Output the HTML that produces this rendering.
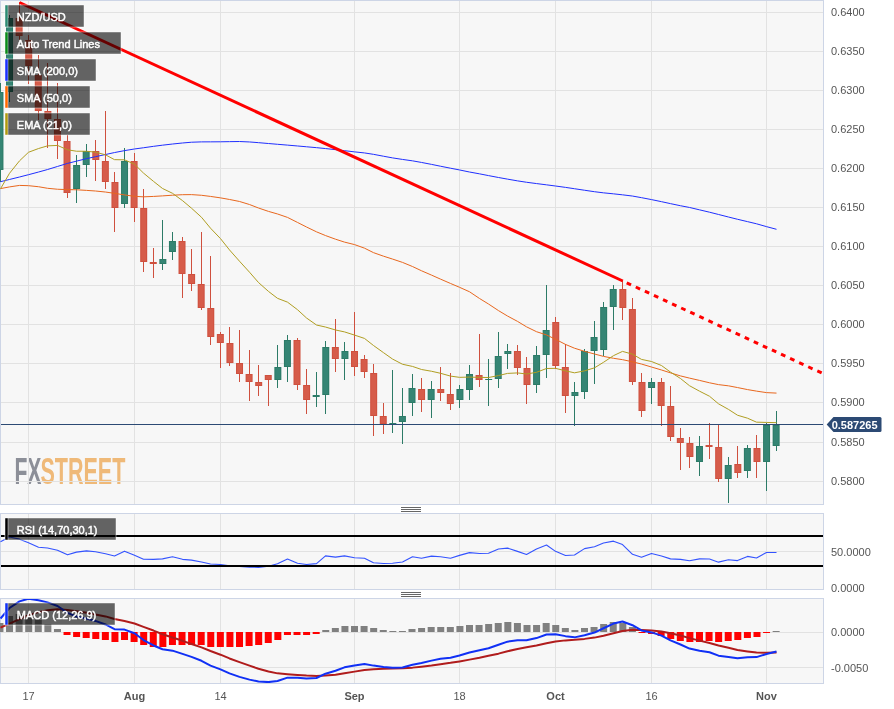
<!DOCTYPE html><html><head><meta charset="utf-8"><title>NZD/USD chart</title><style>html,body{margin:0;padding:0;background:#fff;overflow:hidden}svg{display:block}</style></head><body><svg width="894" height="709" viewBox="0 0 894 709"><defs><clipPath id="cm"><rect x="0" y="1" width="823" height="503"/></clipPath><clipPath id="cr"><rect x="0" y="514" width="823" height="75"/></clipPath><clipPath id="cd"><rect x="0" y="599" width="823" height="84"/></clipPath></defs><rect width="894" height="709" fill="#fff"/><rect x="0.5" y="0.5" width="823" height="504" fill="#f7f7f7" stroke="#cdd5e6" stroke-width="1"/><rect x="0.5" y="513.5" width="823" height="76" fill="#f7f7f7" stroke="#cdd5e6" stroke-width="1"/><rect x="0.5" y="598.5" width="823" height="85" fill="#f7f7f7" stroke="#cdd5e6" stroke-width="1"/><g font-family="Liberation Sans, Arial, sans-serif" font-weight="bold" font-size="37.4"><text x="14.4" y="484" fill="#8c8f98" textLength="27" lengthAdjust="spacingAndGlyphs">FX</text><text x="40.4" y="484" fill="#efb978" textLength="85" lengthAdjust="spacingAndGlyphs">STREET</text></g><g fill="#e2e2e2" shape-rendering="crispEdges"><rect x="28" y="1" width="1" height="503"/><rect x="134" y="1" width="1" height="503"/><rect x="220" y="1" width="1" height="503"/><rect x="354" y="1" width="1" height="503"/><rect x="459" y="1" width="1" height="503"/><rect x="555" y="1" width="1" height="503"/><rect x="651" y="1" width="1" height="503"/><rect x="766" y="1" width="1" height="503"/><rect x="28" y="514" width="1" height="75"/><rect x="134" y="514" width="1" height="75"/><rect x="220" y="514" width="1" height="75"/><rect x="354" y="514" width="1" height="75"/><rect x="459" y="514" width="1" height="75"/><rect x="555" y="514" width="1" height="75"/><rect x="651" y="514" width="1" height="75"/><rect x="766" y="514" width="1" height="75"/><rect x="28" y="599" width="1" height="84"/><rect x="134" y="599" width="1" height="84"/><rect x="220" y="599" width="1" height="84"/><rect x="354" y="599" width="1" height="84"/><rect x="459" y="599" width="1" height="84"/><rect x="555" y="599" width="1" height="84"/><rect x="651" y="599" width="1" height="84"/><rect x="766" y="599" width="1" height="84"/><rect x="1" y="12" width="822" height="1"/><rect x="1" y="51" width="822" height="1"/><rect x="1" y="90" width="822" height="1"/><rect x="1" y="129" width="822" height="1"/><rect x="1" y="168" width="822" height="1"/><rect x="1" y="207" width="822" height="1"/><rect x="1" y="246" width="822" height="1"/><rect x="1" y="285" width="822" height="1"/><rect x="1" y="324" width="822" height="1"/><rect x="1" y="363" width="822" height="1"/><rect x="1" y="402" width="822" height="1"/><rect x="1" y="442" width="822" height="1"/><rect x="1" y="481" width="822" height="1"/><rect x="1" y="551" width="822" height="1"/><rect x="1" y="632" width="822" height="1"/><rect x="1" y="667" width="822" height="1"/></g><g clip-path="url(#cm)"><g shape-rendering="crispEdges"><rect x="0" y="83" width="1" height="99" fill="#2c7b67"/><rect x="9" y="15" width="1" height="87" fill="#2c7b67"/><rect x="19" y="2" width="1" height="38" fill="#cf503e"/><rect x="28" y="35" width="1" height="49" fill="#cf503e"/><rect x="38" y="55" width="1" height="65" fill="#cf503e"/><rect x="47" y="63" width="1" height="85" fill="#cf503e"/><rect x="57" y="83" width="1" height="76" fill="#cf503e"/><rect x="67" y="135" width="1" height="63" fill="#cf503e"/><rect x="76" y="155" width="1" height="48" fill="#2c7b67"/><rect x="86" y="144" width="1" height="33" fill="#2c7b67"/><rect x="95" y="140" width="1" height="41" fill="#cf503e"/><rect x="105" y="111" width="1" height="78" fill="#cf503e"/><rect x="114" y="172" width="1" height="60" fill="#cf503e"/><rect x="124" y="148" width="1" height="60" fill="#2c7b67"/><rect x="134" y="153" width="1" height="69" fill="#cf503e"/><rect x="143" y="189" width="1" height="83" fill="#cf503e"/><rect x="153" y="248" width="1" height="30" fill="#cf503e"/><rect x="162" y="220" width="1" height="50" fill="#2c7b67"/><rect x="172" y="232" width="1" height="28" fill="#2c7b67"/><rect x="182" y="237" width="1" height="61" fill="#cf503e"/><rect x="191" y="249" width="1" height="42" fill="#cf503e"/><rect x="201" y="232" width="1" height="78" fill="#cf503e"/><rect x="210" y="256" width="1" height="89" fill="#cf503e"/><rect x="220" y="332" width="1" height="36" fill="#cf503e"/><rect x="229" y="327" width="1" height="39" fill="#cf503e"/><rect x="239" y="330" width="1" height="52" fill="#cf503e"/><rect x="249" y="350" width="1" height="51" fill="#cf503e"/><rect x="258" y="365" width="1" height="31" fill="#cf503e"/><rect x="268" y="375" width="1" height="31" fill="#cf503e"/><rect x="277" y="345" width="1" height="43" fill="#2c7b67"/><rect x="287" y="335" width="1" height="47" fill="#2c7b67"/><rect x="297" y="338" width="1" height="52" fill="#cf503e"/><rect x="306" y="369" width="1" height="45" fill="#cf503e"/><rect x="316" y="372" width="1" height="35" fill="#2c7b67"/><rect x="325" y="341" width="1" height="73" fill="#2c7b67"/><rect x="335" y="319" width="1" height="53" fill="#cf503e"/><rect x="344" y="342" width="1" height="38" fill="#2c7b67"/><rect x="354" y="312" width="1" height="64" fill="#cf503e"/><rect x="364" y="355" width="1" height="23" fill="#cf503e"/><rect x="373" y="364" width="1" height="72" fill="#cf503e"/><rect x="383" y="403" width="1" height="31" fill="#cf503e"/><rect x="392" y="370" width="1" height="63" fill="#2c7b67"/><rect x="402" y="388" width="1" height="56" fill="#2c7b67"/><rect x="412" y="374" width="1" height="42" fill="#2c7b67"/><rect x="421" y="378" width="1" height="34" fill="#cf503e"/><rect x="431" y="381" width="1" height="37" fill="#2c7b67"/><rect x="440" y="367" width="1" height="34" fill="#cf503e"/><rect x="450" y="373" width="1" height="37" fill="#cf503e"/><rect x="459" y="385" width="1" height="23" fill="#2c7b67"/><rect x="469" y="365" width="1" height="35" fill="#2c7b67"/><rect x="479" y="334" width="1" height="53" fill="#cf503e"/><rect x="488" y="359" width="1" height="47" fill="#2c7b67"/><rect x="498" y="332" width="1" height="56" fill="#2c7b67"/><rect x="507" y="344" width="1" height="25" fill="#2c7b67"/><rect x="517" y="345" width="1" height="30" fill="#cf503e"/><rect x="526" y="357" width="1" height="47" fill="#cf503e"/><rect x="536" y="346" width="1" height="47" fill="#2c7b67"/><rect x="546" y="285" width="1" height="93" fill="#2c7b67"/><rect x="555" y="317" width="1" height="52" fill="#cf503e"/><rect x="565" y="344" width="1" height="69" fill="#cf503e"/><rect x="574" y="382" width="1" height="44" fill="#2c7b67"/><rect x="584" y="349" width="1" height="50" fill="#2c7b67"/><rect x="594" y="321" width="1" height="63" fill="#2c7b67"/><rect x="603" y="302" width="1" height="54" fill="#2c7b67"/><rect x="613" y="285" width="1" height="45" fill="#2c7b67"/><rect x="622" y="281" width="1" height="39" fill="#cf503e"/><rect x="632" y="298" width="1" height="87" fill="#cf503e"/><rect x="641" y="373" width="1" height="44" fill="#cf503e"/><rect x="651" y="378" width="1" height="26" fill="#2c7b67"/><rect x="661" y="378" width="1" height="48" fill="#cf503e"/><rect x="670" y="386" width="1" height="55" fill="#cf503e"/><rect x="680" y="428" width="1" height="42" fill="#cf503e"/><rect x="689" y="437" width="1" height="31" fill="#cf503e"/><rect x="699" y="436" width="1" height="40" fill="#2c7b67"/><rect x="709" y="423" width="1" height="36" fill="#cf503e"/><rect x="718" y="425" width="1" height="57" fill="#cf503e"/><rect x="728" y="457" width="1" height="46" fill="#2c7b67"/><rect x="737" y="446" width="1" height="32" fill="#cf503e"/><rect x="747" y="445" width="1" height="33" fill="#2c7b67"/><rect x="756" y="435" width="1" height="43" fill="#cf503e"/><rect x="766" y="423" width="1" height="68" fill="#2c7b67"/><rect x="776" y="411" width="1" height="40" fill="#2c7b67"/></g><rect x="-3.55" y="92" width="7" height="78" fill="#2c7b67"/><rect x="-2.55" y="93" width="5" height="76" fill="#358574"/><rect x="6.03" y="18" width="7" height="74" fill="#2c7b67"/><rect x="7.03" y="19" width="5" height="72" fill="#358574"/><rect x="15.62" y="18" width="7" height="18" fill="#cf503e"/><rect x="16.62" y="19" width="5" height="16" fill="#d65c4a"/><rect x="25.20" y="40" width="7" height="26" fill="#cf503e"/><rect x="26.20" y="41" width="5" height="24" fill="#d65c4a"/><rect x="34.78" y="75" width="7" height="36" fill="#cf503e"/><rect x="35.78" y="76" width="5" height="34" fill="#d65c4a"/><rect x="44.37" y="111" width="7" height="8" fill="#cf503e"/><rect x="45.37" y="112" width="5" height="6" fill="#d65c4a"/><rect x="53.95" y="119" width="7" height="22" fill="#cf503e"/><rect x="54.95" y="120" width="5" height="20" fill="#d65c4a"/><rect x="63.53" y="141" width="7" height="52" fill="#cf503e"/><rect x="64.53" y="142" width="5" height="50" fill="#d65c4a"/><rect x="73.11" y="165" width="7" height="24" fill="#2c7b67"/><rect x="74.11" y="166" width="5" height="22" fill="#358574"/><rect x="82.70" y="151" width="7" height="14" fill="#2c7b67"/><rect x="83.70" y="152" width="5" height="12" fill="#358574"/><rect x="92.28" y="151" width="7" height="9" fill="#cf503e"/><rect x="93.28" y="152" width="5" height="7" fill="#d65c4a"/><rect x="101.86" y="161" width="7" height="21" fill="#cf503e"/><rect x="102.86" y="162" width="5" height="19" fill="#d65c4a"/><rect x="111.44" y="182" width="7" height="26" fill="#cf503e"/><rect x="112.44" y="183" width="5" height="24" fill="#d65c4a"/><rect x="121.03" y="161" width="7" height="43" fill="#2c7b67"/><rect x="122.03" y="162" width="5" height="41" fill="#358574"/><rect x="130.61" y="161" width="7" height="47" fill="#cf503e"/><rect x="131.61" y="162" width="5" height="45" fill="#d65c4a"/><rect x="140.19" y="208" width="7" height="54" fill="#cf503e"/><rect x="141.19" y="209" width="5" height="52" fill="#d65c4a"/><rect x="149.77" y="262" width="7" height="2" fill="#cf503e"/><rect x="159.36" y="259" width="7" height="5" fill="#2c7b67"/><rect x="160.36" y="260" width="5" height="3" fill="#358574"/><rect x="168.94" y="241" width="7" height="11" fill="#2c7b67"/><rect x="169.94" y="242" width="5" height="9" fill="#358574"/><rect x="178.52" y="241" width="7" height="33" fill="#cf503e"/><rect x="179.52" y="242" width="5" height="31" fill="#d65c4a"/><rect x="188.10" y="274" width="7" height="10" fill="#cf503e"/><rect x="189.10" y="275" width="5" height="8" fill="#d65c4a"/><rect x="197.69" y="284" width="7" height="24" fill="#cf503e"/><rect x="198.69" y="285" width="5" height="22" fill="#d65c4a"/><rect x="207.27" y="308" width="7" height="29" fill="#cf503e"/><rect x="208.27" y="309" width="5" height="27" fill="#d65c4a"/><rect x="216.85" y="334" width="7" height="9" fill="#cf503e"/><rect x="217.85" y="335" width="5" height="7" fill="#d65c4a"/><rect x="226.43" y="343" width="7" height="20" fill="#cf503e"/><rect x="227.43" y="344" width="5" height="18" fill="#d65c4a"/><rect x="236.02" y="363" width="7" height="11" fill="#cf503e"/><rect x="237.02" y="364" width="5" height="9" fill="#d65c4a"/><rect x="245.60" y="374" width="7" height="8" fill="#cf503e"/><rect x="246.60" y="375" width="5" height="6" fill="#d65c4a"/><rect x="255.18" y="382" width="7" height="4" fill="#cf503e"/><rect x="256.18" y="383" width="5" height="2" fill="#d65c4a"/><rect x="264.76" y="375" width="7" height="5" fill="#cf503e"/><rect x="265.76" y="376" width="5" height="3" fill="#d65c4a"/><rect x="274.35" y="367" width="7" height="13" fill="#2c7b67"/><rect x="275.35" y="368" width="5" height="11" fill="#358574"/><rect x="283.93" y="340" width="7" height="27" fill="#2c7b67"/><rect x="284.93" y="341" width="5" height="25" fill="#358574"/><rect x="293.51" y="340" width="7" height="45" fill="#cf503e"/><rect x="294.51" y="341" width="5" height="43" fill="#d65c4a"/><rect x="303.10" y="385" width="7" height="15" fill="#cf503e"/><rect x="304.10" y="386" width="5" height="13" fill="#d65c4a"/><rect x="312.68" y="395" width="7" height="2" fill="#2c7b67"/><rect x="322.26" y="347" width="7" height="48" fill="#2c7b67"/><rect x="323.26" y="348" width="5" height="46" fill="#358574"/><rect x="331.84" y="347" width="7" height="12" fill="#cf503e"/><rect x="332.84" y="348" width="5" height="10" fill="#d65c4a"/><rect x="341.43" y="351" width="7" height="8" fill="#2c7b67"/><rect x="342.43" y="352" width="5" height="6" fill="#358574"/><rect x="351.01" y="351" width="7" height="16" fill="#cf503e"/><rect x="352.01" y="352" width="5" height="14" fill="#d65c4a"/><rect x="360.59" y="359" width="7" height="13" fill="#cf503e"/><rect x="361.59" y="360" width="5" height="11" fill="#d65c4a"/><rect x="370.17" y="373" width="7" height="43" fill="#cf503e"/><rect x="371.17" y="374" width="5" height="41" fill="#d65c4a"/><rect x="379.76" y="416" width="7" height="8" fill="#cf503e"/><rect x="380.76" y="417" width="5" height="6" fill="#d65c4a"/><rect x="389.34" y="423" width="7" height="1" fill="#2c7b67"/><rect x="398.92" y="416" width="7" height="6" fill="#2c7b67"/><rect x="399.92" y="417" width="5" height="4" fill="#358574"/><rect x="408.50" y="388" width="7" height="15" fill="#2c7b67"/><rect x="409.50" y="389" width="5" height="13" fill="#358574"/><rect x="418.09" y="389" width="7" height="11" fill="#cf503e"/><rect x="419.09" y="390" width="5" height="9" fill="#d65c4a"/><rect x="427.67" y="389" width="7" height="11" fill="#2c7b67"/><rect x="428.67" y="390" width="5" height="9" fill="#358574"/><rect x="437.25" y="389" width="7" height="4" fill="#cf503e"/><rect x="438.25" y="390" width="5" height="2" fill="#d65c4a"/><rect x="446.83" y="394" width="7" height="10" fill="#cf503e"/><rect x="447.83" y="395" width="5" height="8" fill="#d65c4a"/><rect x="456.42" y="389" width="7" height="11" fill="#2c7b67"/><rect x="457.42" y="390" width="5" height="9" fill="#358574"/><rect x="466.00" y="374" width="7" height="16" fill="#2c7b67"/><rect x="467.00" y="375" width="5" height="14" fill="#358574"/><rect x="475.58" y="375" width="7" height="5" fill="#cf503e"/><rect x="476.58" y="376" width="5" height="3" fill="#d65c4a"/><rect x="485.16" y="379" width="7" height="1" fill="#2c7b67"/><rect x="494.75" y="356" width="7" height="23" fill="#2c7b67"/><rect x="495.75" y="357" width="5" height="21" fill="#358574"/><rect x="504.33" y="351" width="7" height="3" fill="#2c7b67"/><rect x="505.33" y="352" width="5" height="1" fill="#358574"/><rect x="513.91" y="351" width="7" height="17" fill="#cf503e"/><rect x="514.91" y="352" width="5" height="15" fill="#d65c4a"/><rect x="523.50" y="368" width="7" height="17" fill="#cf503e"/><rect x="524.50" y="369" width="5" height="15" fill="#d65c4a"/><rect x="533.08" y="355" width="7" height="30" fill="#2c7b67"/><rect x="534.08" y="356" width="5" height="28" fill="#358574"/><rect x="542.66" y="330" width="7" height="25" fill="#2c7b67"/><rect x="543.66" y="331" width="5" height="23" fill="#358574"/><rect x="552.24" y="322" width="7" height="44" fill="#cf503e"/><rect x="553.24" y="323" width="5" height="42" fill="#d65c4a"/><rect x="561.83" y="367" width="7" height="29" fill="#cf503e"/><rect x="562.83" y="368" width="5" height="27" fill="#d65c4a"/><rect x="571.41" y="392" width="7" height="4" fill="#2c7b67"/><rect x="572.41" y="393" width="5" height="2" fill="#358574"/><rect x="580.99" y="351" width="7" height="41" fill="#2c7b67"/><rect x="581.99" y="352" width="5" height="39" fill="#358574"/><rect x="590.57" y="337" width="7" height="14" fill="#2c7b67"/><rect x="591.57" y="338" width="5" height="12" fill="#358574"/><rect x="600.16" y="307" width="7" height="43" fill="#2c7b67"/><rect x="601.16" y="308" width="5" height="41" fill="#358574"/><rect x="609.74" y="289" width="7" height="18" fill="#2c7b67"/><rect x="610.74" y="290" width="5" height="16" fill="#358574"/><rect x="619.32" y="289" width="7" height="19" fill="#cf503e"/><rect x="620.32" y="290" width="5" height="17" fill="#d65c4a"/><rect x="628.90" y="309" width="7" height="73" fill="#cf503e"/><rect x="629.90" y="310" width="5" height="71" fill="#d65c4a"/><rect x="638.49" y="382" width="7" height="29" fill="#cf503e"/><rect x="639.49" y="383" width="5" height="27" fill="#d65c4a"/><rect x="648.07" y="382" width="7" height="6" fill="#2c7b67"/><rect x="649.07" y="383" width="5" height="4" fill="#358574"/><rect x="657.65" y="382" width="7" height="24" fill="#cf503e"/><rect x="658.65" y="383" width="5" height="22" fill="#d65c4a"/><rect x="667.23" y="406" width="7" height="31" fill="#cf503e"/><rect x="668.23" y="407" width="5" height="29" fill="#d65c4a"/><rect x="676.82" y="438" width="7" height="5" fill="#cf503e"/><rect x="677.82" y="439" width="5" height="3" fill="#d65c4a"/><rect x="686.40" y="443" width="7" height="14" fill="#cf503e"/><rect x="687.40" y="444" width="5" height="12" fill="#d65c4a"/><rect x="695.98" y="446" width="7" height="16" fill="#2c7b67"/><rect x="696.98" y="447" width="5" height="14" fill="#358574"/><rect x="705.56" y="445" width="7" height="2" fill="#cf503e"/><rect x="715.15" y="447" width="7" height="32" fill="#cf503e"/><rect x="716.15" y="448" width="5" height="30" fill="#d65c4a"/><rect x="724.73" y="465" width="7" height="14" fill="#2c7b67"/><rect x="725.73" y="466" width="5" height="12" fill="#358574"/><rect x="734.31" y="464" width="7" height="9" fill="#cf503e"/><rect x="735.31" y="465" width="5" height="7" fill="#d65c4a"/><rect x="743.89" y="448" width="7" height="23" fill="#2c7b67"/><rect x="744.89" y="449" width="5" height="21" fill="#358574"/><rect x="753.48" y="448" width="7" height="14" fill="#cf503e"/><rect x="754.48" y="449" width="5" height="12" fill="#d65c4a"/><rect x="763.06" y="425" width="7" height="37" fill="#2c7b67"/><rect x="764.06" y="426" width="5" height="35" fill="#358574"/><rect x="772.64" y="425" width="7" height="21" fill="#2c7b67"/><rect x="773.64" y="426" width="5" height="19" fill="#358574"/></g><g clip-path="url(#cm)" fill="none" stroke-linejoin="round"><polyline points="0.50,181.68 9.50,179.47 19.50,177.01 28.50,174.69 38.50,172.04 47.50,169.54 57.50,166.46 67.50,163.40 76.50,161.15 86.50,158.65 95.50,156.70 105.50,154.52 114.50,152.55 124.50,150.64 134.50,148.98 143.50,147.76 153.50,146.34 162.50,145.18 172.50,144.02 182.50,142.99 191.50,142.22 201.50,141.89 210.50,141.85 220.50,141.79 229.50,141.65 239.50,141.52 249.50,141.96 258.50,142.66 268.50,143.53 277.50,144.29 287.50,145.11 297.50,145.98 306.50,146.78 316.50,147.67 325.50,148.55 335.50,149.67 344.50,150.68 354.50,151.86 364.50,152.93 373.50,154.34 383.50,156.22 392.50,157.89 402.50,159.43 412.50,160.83 421.50,162.44 431.50,164.39 440.50,166.23 450.50,168.21 459.50,169.94 469.50,172.03 479.50,173.84 488.50,175.60 498.50,177.51 507.50,179.14 517.50,180.87 526.50,182.25 536.50,183.57 546.50,184.84 555.50,186.01 565.50,187.38 574.50,188.72 584.50,190.24 594.50,191.71 603.50,192.84 613.50,193.84 622.50,194.82 632.50,196.05 641.50,197.67 651.50,199.60 661.50,201.68 670.50,203.64 680.50,205.74 689.50,207.46 699.50,209.83 709.50,212.19 718.50,214.48 728.50,217.03 737.50,219.28 747.50,221.63 756.50,223.79 766.50,226.63 776.50,229.30" stroke="#1f2fff" stroke-width="1"/><polyline points="0.50,188.60 9.50,186.90 19.50,185.41 28.50,185.68 38.50,186.73 47.50,188.29 57.50,189.24 67.50,189.61 76.50,189.77 86.50,190.39 95.50,191.00 105.50,192.04 114.50,193.33 124.50,194.92 134.50,196.35 143.50,196.84 153.50,196.43 162.50,195.89 172.50,195.21 182.50,194.69 191.50,194.61 201.50,195.29 210.50,196.41 220.50,197.87 229.50,199.47 239.50,201.48 249.50,204.53 258.50,208.01 268.50,211.40 277.50,213.97 287.50,217.40 297.50,222.44 306.50,226.99 316.50,231.83 325.50,235.56 335.50,239.19 344.50,242.10 354.50,244.58 364.50,248.16 373.50,252.65 383.50,256.18 392.50,259.05 402.50,262.40 412.50,266.52 421.50,270.77 431.50,275.10 440.50,279.11 450.50,283.46 459.50,287.29 469.50,291.75 479.50,298.47 488.50,304.00 498.50,310.61 507.50,316.03 517.50,321.39 526.50,326.82 536.50,331.70 546.50,334.94 555.50,339.27 565.50,344.42 574.50,348.21 584.50,351.32 594.50,354.00 603.50,356.40 613.50,358.29 622.50,359.66 632.50,361.80 641.50,364.05 651.50,367.03 661.50,369.99 670.50,372.87 680.50,375.91 689.50,378.12 699.50,380.40 709.50,382.79 718.50,384.62 728.50,385.84 737.50,387.56 747.50,389.58 756.50,391.11 766.50,392.62 776.50,393.10" stroke="#e8671e" stroke-width="1"/><polyline points="0.50,188.80 9.50,173.30 19.50,160.85 28.50,152.28 38.50,148.54 47.50,145.86 57.50,145.43 67.50,149.80 76.50,151.22 86.50,151.27 95.50,152.13 105.50,154.84 114.50,159.65 124.50,159.83 134.50,164.19 143.50,173.09 153.50,181.37 162.50,188.47 172.50,193.30 182.50,200.62 191.50,208.19 201.50,217.27 210.50,228.18 220.50,238.63 229.50,249.93 239.50,261.22 249.50,272.19 258.50,282.53 268.50,291.43 277.50,298.32 287.50,302.15 297.50,309.70 306.50,317.98 316.50,325.02 325.50,327.04 335.50,329.97 344.50,331.90 354.50,335.09 364.50,338.43 373.50,345.51 383.50,352.66 392.50,359.04 402.50,364.25 412.50,366.43 421.50,369.49 431.50,371.25 440.50,373.27 450.50,376.10 459.50,377.33 469.50,377.09 479.50,377.37 488.50,377.52 498.50,375.58 507.50,373.40 517.50,372.91 526.50,374.00 536.50,372.32 546.50,368.51 555.50,368.34 565.50,370.84 574.50,372.82 584.50,370.87 594.50,367.82 603.50,362.30 613.50,355.65 622.50,351.40 632.50,354.17 641.50,359.40 651.50,361.50 661.50,365.54 670.50,372.08 680.50,378.51 689.50,385.71 699.50,391.17 709.50,396.24 718.50,403.81 728.50,409.42 737.50,415.22 747.50,418.19 756.50,422.16 766.50,422.43 776.50,422.67" stroke="#b09e22" stroke-width="1"/><line x1="19.5" y1="2.5" x2="622.8" y2="281.0" stroke="#ff0000" stroke-width="3"/><line x1="622.8" y1="281.0" x2="830" y2="376.83" stroke="#ff0000" stroke-width="3" stroke-dasharray="4.8 5.2" stroke-dashoffset="5.7"/></g><rect x="1" y="424" width="822" height="1" fill="#2c4a74" shape-rendering="crispEdges"/><g clip-path="url(#cr)"><polyline points="0.50,541.74 9.50,536.96 19.50,539.14 28.50,542.64 38.50,547.27 47.50,548.04 57.50,550.21 67.50,554.83 76.50,552.12 86.50,550.84 95.50,551.70 105.50,553.70 114.50,556.03 124.50,551.15 134.50,555.22 143.50,559.24 153.50,559.38 162.50,558.84 172.50,556.71 182.50,559.34 191.50,560.13 201.50,561.98 210.50,564.04 220.50,564.45 229.50,565.81 239.50,566.56 249.50,567.10 258.50,567.39 268.50,566.31 277.50,563.77 287.50,559.00 297.50,563.25 306.50,564.55 316.50,563.58 325.50,555.84 335.50,557.14 344.50,555.91 354.50,557.71 364.50,558.26 373.50,562.78 383.50,563.48 392.50,563.25 402.50,561.94 412.50,556.71 421.50,558.18 431.50,556.16 440.50,556.79 450.50,558.29 459.50,555.36 469.50,552.60 479.50,553.49 488.50,553.29 498.50,548.94 507.50,548.12 517.50,551.39 526.50,554.44 536.50,548.95 546.50,545.06 555.50,551.35 565.50,555.50 574.50,554.93 584.50,548.59 594.50,546.71 603.50,543.08 613.50,541.15 622.50,544.52 632.50,554.27 641.50,557.29 651.50,553.53 661.50,555.93 670.50,558.86 680.50,559.34 689.50,560.69 699.50,558.86 709.50,558.97 718.50,562.15 728.50,559.82 737.50,560.61 747.50,556.41 756.50,557.99 766.50,552.47 776.50,552.47" fill="none" stroke="#3353ff" stroke-width="1.1" stroke-linejoin="round"/><rect x="1" y="535" width="822" height="2" fill="#000"/><rect x="1" y="565" width="822" height="2" fill="#000"/></g><g clip-path="url(#cd)"><g><rect x="-3.55" y="623" width="7" height="9" fill="#808080"/><rect x="6.03" y="616" width="7" height="16" fill="#808080"/><rect x="15.62" y="614" width="7" height="18" fill="#808080"/><rect x="25.2" y="616" width="7" height="16" fill="#808080"/><rect x="34.78" y="620" width="7" height="12" fill="#808080"/><rect x="44.37" y="624" width="7" height="8" fill="#808080"/><rect x="53.95" y="629" width="7" height="3" fill="#808080"/><rect x="63.53" y="632" width="7" height="3" fill="#ff0000"/><rect x="73.11" y="632" width="7" height="5" fill="#ff0000"/><rect x="82.7" y="632" width="7" height="6" fill="#ff0000"/><rect x="92.28" y="632" width="7" height="7" fill="#ff0000"/><rect x="101.86" y="632" width="7" height="8" fill="#ff0000"/><rect x="111.44" y="632" width="7" height="10" fill="#ff0000"/><rect x="121.03" y="632" width="7" height="8" fill="#ff0000"/><rect x="130.61" y="632" width="7" height="10" fill="#ff0000"/><rect x="140.19" y="632" width="7" height="13" fill="#ff0000"/><rect x="149.77" y="632" width="7" height="15" fill="#ff0000"/><rect x="159.36" y="632" width="7" height="15" fill="#ff0000"/><rect x="168.94" y="632" width="7" height="13" fill="#ff0000"/><rect x="178.52" y="632" width="7" height="13" fill="#ff0000"/><rect x="188.1" y="632" width="7" height="13" fill="#ff0000"/><rect x="197.69" y="632" width="7" height="13" fill="#ff0000"/><rect x="207.27" y="632" width="7" height="15" fill="#ff0000"/><rect x="216.85" y="632" width="7" height="15" fill="#ff0000"/><rect x="226.43" y="632" width="7" height="15" fill="#ff0000"/><rect x="236.02" y="632" width="7" height="15" fill="#ff0000"/><rect x="245.6" y="632" width="7" height="14" fill="#ff0000"/><rect x="255.18" y="632" width="7" height="13" fill="#ff0000"/><rect x="264.76" y="632" width="7" height="11" fill="#ff0000"/><rect x="274.35" y="632" width="7" height="8" fill="#ff0000"/><rect x="283.93" y="632" width="7" height="3" fill="#ff0000"/><rect x="293.51" y="632" width="7" height="3" fill="#ff0000"/><rect x="303.1" y="632" width="7" height="3" fill="#ff0000"/><rect x="312.68" y="632" width="7" height="2" fill="#ff0000"/><rect x="322.26" y="630" width="7" height="2" fill="#808080"/><rect x="331.84" y="628" width="7" height="4" fill="#808080"/><rect x="341.43" y="626" width="7" height="6" fill="#808080"/><rect x="351.01" y="626" width="7" height="6" fill="#808080"/><rect x="360.59" y="626" width="7" height="6" fill="#808080"/><rect x="370.17" y="628" width="7" height="4" fill="#808080"/><rect x="379.76" y="630" width="7" height="2" fill="#808080"/><rect x="389.34" y="631" width="7" height="1" fill="#808080"/><rect x="398.92" y="631" width="7" height="1" fill="#808080"/><rect x="408.5" y="629" width="7" height="3" fill="#808080"/><rect x="418.09" y="628" width="7" height="4" fill="#808080"/><rect x="427.67" y="627" width="7" height="5" fill="#808080"/><rect x="437.25" y="627" width="7" height="5" fill="#808080"/><rect x="446.83" y="627" width="7" height="5" fill="#808080"/><rect x="456.42" y="626" width="7" height="6" fill="#808080"/><rect x="466.0" y="625" width="7" height="7" fill="#808080"/><rect x="475.58" y="625" width="7" height="7" fill="#808080"/><rect x="485.16" y="624" width="7" height="8" fill="#808080"/><rect x="494.75" y="623" width="7" height="9" fill="#808080"/><rect x="504.33" y="622" width="7" height="10" fill="#808080"/><rect x="513.91" y="623" width="7" height="9" fill="#808080"/><rect x="523.5" y="625" width="7" height="7" fill="#808080"/><rect x="533.08" y="625" width="7" height="7" fill="#808080"/><rect x="542.66" y="623" width="7" height="9" fill="#808080"/><rect x="552.24" y="625" width="7" height="7" fill="#808080"/><rect x="561.83" y="628" width="7" height="4" fill="#808080"/><rect x="571.41" y="630" width="7" height="2" fill="#808080"/><rect x="580.99" y="628" width="7" height="4" fill="#808080"/><rect x="590.57" y="627" width="7" height="5" fill="#808080"/><rect x="600.16" y="624" width="7" height="8" fill="#808080"/><rect x="609.74" y="622" width="7" height="10" fill="#808080"/><rect x="619.32" y="623" width="7" height="9" fill="#808080"/><rect x="628.9" y="627" width="7" height="5" fill="#808080"/><rect x="638.49" y="632" width="7" height="1" fill="#ff0000"/><rect x="648.07" y="632" width="7" height="2" fill="#ff0000"/><rect x="657.65" y="632" width="7" height="4" fill="#ff0000"/><rect x="667.23" y="632" width="7" height="7" fill="#ff0000"/><rect x="676.82" y="632" width="7" height="9" fill="#ff0000"/><rect x="686.4" y="632" width="7" height="10" fill="#ff0000"/><rect x="695.98" y="632" width="7" height="10" fill="#ff0000"/><rect x="705.56" y="632" width="7" height="9" fill="#ff0000"/><rect x="715.15" y="632" width="7" height="10" fill="#ff0000"/><rect x="724.73" y="632" width="7" height="9" fill="#ff0000"/><rect x="734.31" y="632" width="7" height="8" fill="#ff0000"/><rect x="743.89" y="632" width="7" height="6" fill="#ff0000"/><rect x="753.48" y="632" width="7" height="5" fill="#ff0000"/><rect x="763.06" y="632" width="7" height="1" fill="#ff0000"/><rect x="772.64" y="631" width="7" height="1" fill="#808080"/></g><polyline points="0.50,627.60 9.50,623.68 19.50,619.21 28.50,615.11 38.50,612.13 47.50,610.17 57.50,609.33 67.50,610.05 76.50,611.34 86.50,612.78 95.50,614.41 105.50,616.41 114.50,618.97 124.50,621.09 134.50,623.52 143.50,626.83 153.50,630.56 162.50,634.29 172.50,637.56 182.50,640.82 191.50,644.04 201.50,647.39 210.50,651.03 220.50,654.70 229.50,658.44 239.50,662.12 249.50,665.62 258.50,668.81 268.50,671.47 277.50,673.37 287.50,674.22 297.50,674.92 306.50,675.62 316.50,676.10 325.50,675.62 335.50,674.64 344.50,673.17 354.50,671.63 364.50,670.09 373.50,669.19 383.50,668.77 392.50,668.58 402.50,668.35 412.50,667.63 421.50,666.72 431.50,665.50 440.50,664.15 450.50,662.86 459.50,661.40 469.50,659.62 479.50,657.75 488.50,655.85 498.50,653.65 507.50,651.25 517.50,649.05 526.50,647.29 536.50,645.45 546.50,643.25 555.50,641.45 565.50,640.38 574.50,639.78 584.50,638.88 594.50,637.61 603.50,635.74 613.50,633.31 622.50,630.94 632.50,629.80 641.50,629.93 651.50,630.42 661.50,631.47 670.50,633.26 680.50,635.51 689.50,638.12 699.50,640.65 709.50,642.98 718.50,645.52 728.50,647.82 737.50,649.93 747.50,651.39 756.50,652.54 766.50,652.84 776.50,652.56" fill="none" stroke="#b01c1c" stroke-width="2" stroke-linejoin="round"/><polyline points="0.50,618.50 9.50,607.99 19.50,601.34 28.50,598.68 38.50,600.22 47.50,602.35 57.50,605.97 67.50,612.91 76.50,616.52 86.50,618.53 95.50,620.92 105.50,624.45 114.50,629.18 124.50,629.57 134.50,633.25 143.50,640.07 153.50,645.47 162.50,649.21 172.50,650.64 182.50,653.89 191.50,656.92 201.50,660.77 210.50,665.58 220.50,669.39 229.50,673.38 239.50,676.85 249.50,679.63 258.50,681.56 268.50,682.10 277.50,680.99 287.50,677.63 297.50,677.72 306.50,678.40 316.50,678.02 325.50,673.69 335.50,670.70 344.50,667.33 354.50,665.44 364.50,663.93 373.50,665.61 383.50,667.11 392.50,667.79 402.50,667.45 412.50,664.73 421.50,663.09 431.50,660.64 440.50,658.72 450.50,657.71 459.50,655.55 469.50,652.51 479.50,650.28 488.50,648.26 498.50,644.82 507.50,641.65 517.50,640.25 526.50,640.28 536.50,638.08 546.50,634.46 555.50,634.22 565.50,636.14 574.50,637.36 584.50,635.26 594.50,632.55 603.50,628.23 613.50,623.59 622.50,621.47 632.50,625.24 641.50,630.44 651.50,632.41 661.50,635.65 670.50,640.43 680.50,644.48 689.50,648.59 699.50,650.75 709.50,652.31 718.50,655.68 728.50,657.02 737.50,658.36 747.50,657.26 756.50,657.12 766.50,654.06 776.50,651.41" fill="none" stroke="#1030f5" stroke-width="2" stroke-linejoin="round"/></g><g font-family="Liberation Sans, Arial, sans-serif" font-size="11" fill="#fff" stroke="#fff" stroke-width="0.45"><rect x="5" y="5" width="79" height="22" fill="#000" fill-opacity="0.6"/><rect x="5" y="5" width="3" height="22" fill="#2d8a72"/><text x="16.8" y="20.5">NZD/USD</text><rect x="5" y="32" width="116" height="22" fill="#000" fill-opacity="0.6"/><rect x="5" y="32" width="3" height="22" fill="#0a8a1a"/><text x="16.8" y="47.5">Auto Trend Lines</text><rect x="5" y="59" width="91" height="22" fill="#000" fill-opacity="0.6"/><rect x="5" y="59" width="3" height="22" fill="#1a30ff"/><text x="16.8" y="74.5">SMA (200,0)</text><rect x="5" y="86" width="85" height="22" fill="#000" fill-opacity="0.6"/><rect x="5" y="86" width="3" height="22" fill="#ff6a00"/><text x="16.8" y="101.5">SMA (50,0)</text><rect x="5" y="113" width="85" height="22" fill="#000" fill-opacity="0.6"/><rect x="5" y="113" width="3" height="22" fill="#b09a10"/><text x="16.8" y="128.5">EMA (21,0)</text><rect x="5" y="518" width="111" height="22" fill="#000" fill-opacity="0.6"/><rect x="5" y="518" width="3" height="22" fill="#000000"/><text x="16.8" y="533.5">RSI (14,70,30,1)</text><rect x="5" y="603" width="110" height="22" fill="#000" fill-opacity="0.6"/><rect x="5" y="603" width="3" height="22" fill="#1030f5"/><text x="16.8" y="618.5">MACD (12,26,9)</text></g><g fill="#666" shape-rendering="crispEdges"><rect x="401" y="507" width="20" height="1"/><rect x="401" y="509" width="20" height="1"/><rect x="401" y="511" width="20" height="1"/></g><g fill="#666" shape-rendering="crispEdges"><rect x="401" y="592" width="20" height="1"/><rect x="401" y="594" width="20" height="1"/><rect x="401" y="596" width="20" height="1"/></g><g font-family="Liberation Sans, Arial, sans-serif" font-size="11" fill="#555"><text x="831" y="15.5">0.6400</text><text x="831" y="54.5">0.6350</text><text x="831" y="93.5">0.6300</text><text x="831" y="132.5">0.6250</text><text x="831" y="171.5">0.6200</text><text x="831" y="210.5">0.6150</text><text x="831" y="249.5">0.6100</text><text x="831" y="288.5">0.6050</text><text x="831" y="327.5">0.6000</text><text x="831" y="366.5">0.5950</text><text x="831" y="405.5">0.5900</text><text x="831" y="445.5">0.5850</text><text x="831" y="484.5">0.5800</text><text x="831" y="555.5">50.0000</text><text x="831" y="591.5">0.0000</text><text x="831" y="636">0.0000</text><text x="831" y="672">-0.0050</text></g><g font-family="Liberation Sans, Arial, sans-serif" font-size="11" fill="#555" text-anchor="middle"><text x="28.5" y="700">17</text><text x="134.5" y="700" font-weight="bold">Aug</text><text x="220.5" y="700">14</text><text x="354.5" y="700" font-weight="bold">Sep</text><text x="459.5" y="700">18</text><text x="555.5" y="700" font-weight="bold">Oct</text><text x="651.5" y="700">16</text><text x="766.5" y="700" font-weight="bold">Nov</text></g><path d="M826.7,424.5 L833.5,417 L880,417 Q881.5,417 881.5,418.5 L881.5,430.5 Q881.5,432 880,432 L833.5,432 Z" fill="#2c4a74"/><text x="831.7" y="428.6" font-family="Liberation Sans, Arial, sans-serif" font-size="11" font-weight="bold" fill="#fff">0.587265</text></svg></body></html>
